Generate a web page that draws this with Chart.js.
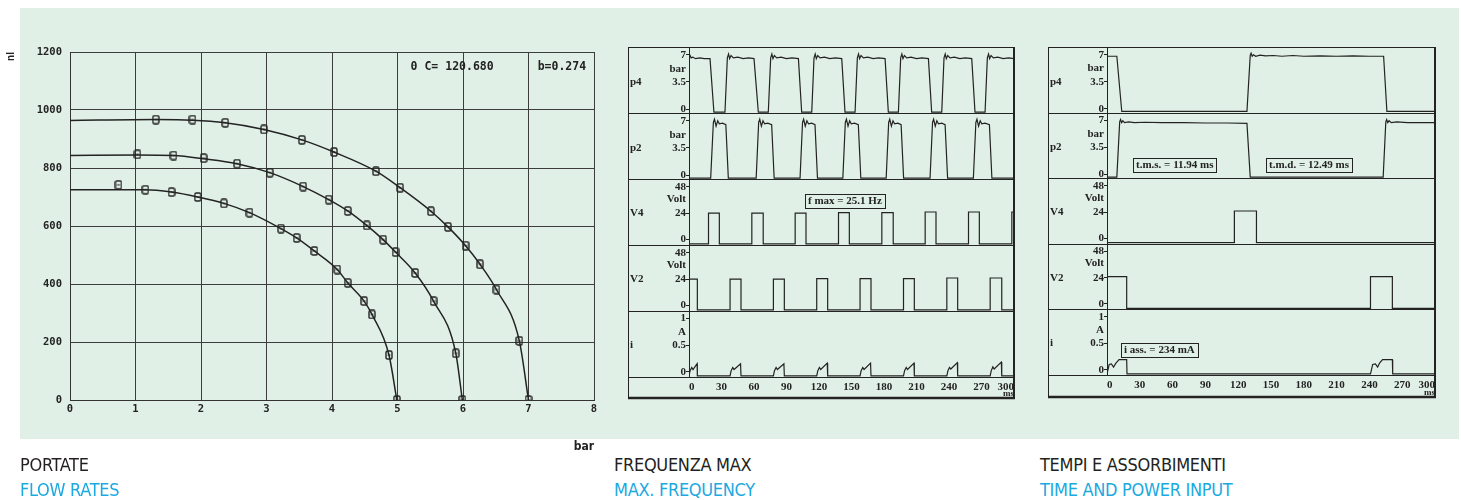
<!DOCTYPE html>
<html>
<head>
<meta charset="utf-8">
<title>Portate / Frequenza max / Tempi e assorbimenti</title>
<script src="https://cdn.jsdelivr.net/npm/chart.js@4.4.1/dist/chart.umd.min.js"></script>
<style>
  html,body{margin:0;padding:0;background:#fff;}
  body{width:1461px;height:500px;position:relative;overflow:hidden;
       font-family:"Liberation Sans Narrow","DejaVu Sans Condensed","Roboto",sans-serif;font-stretch:condensed;}
  .panel{position:absolute;left:20px;top:8px;width:1439px;height:431px;background:#e1f0e6;}
  canvas{position:absolute;top:0;}
  #flowChart{left:0;}
  #freqChart{left:610px;}
  #timeChart{left:1030px;}
  .cap{position:absolute;top:452px;font-size:18px;line-height:25px;letter-spacing:-.3px;color:#231f20;}
  .cap span{display:block;color:#1aa9e1;}
</style>
</head>
<body>
<div class="panel"></div>
<canvas id="flowChart" width="610" height="456"></canvas>
<canvas id="freqChart" width="420" height="420"></canvas>
<canvas id="timeChart" width="431" height="420"></canvas>
<div class="cap" style="left:20px">PORTATE<span>FLOW RATES</span></div>
<div class="cap" style="left:614px">FREQUENZA MAX<span>MAX. FREQUENCY</span></div>
<div class="cap" style="left:1040px">TEMPI E ASSORBIMENTI<span>TIME AND POWER INPUT</span></div>

<script>
// ---- flow rates (bar / nl) ----
var pressTicks = [0,1,2,3,4,5,6,7,8];
var flowTicks  = [0,200,400,600,800,1000,1200];

// measured points
var bar7 = [1.31,1.87,2.37,2.96,3.54,4.03,4.67,5.04,5.51,5.77,6.04,6.26,6.51,6.86,7.0];
var nl7  = [967,967,956,933,897,855,789,732,651,597,532,468,381,204,0];
var bar6 = [1.03,1.58,2.04,2.55,3.05,3.56,3.95,4.24,4.53,4.78,4.97,5.27,5.55,5.89,5.99];
var nl6  = [847,843,834,815,784,736,691,652,602,553,510,438,341,161,0];
var bar5 = [0.74,1.15,1.55,1.95,2.35,2.74,3.22,3.46,3.73,4.08,4.24,4.49,4.61,4.87,4.99];
var nl5  = [742,725,717,700,678,646,591,559,514,450,404,341,295,155,0];

// fitted curves
var fitBar7 = [0,1.31,1.87,2.37,2.96,3.54,4.03,4.67,5.04,5.51,5.77,6.04,6.26,6.51,6.86,7.0];
var fitNl7  = [964,967,965,956,933,897,855,789,732,651,597,532,468,381,204,0];
var fitBar6 = [0,1.03,1.58,2.04,2.55,3.05,3.56,3.95,4.24,4.53,4.78,4.97,5.27,5.55,5.89,5.99];
var fitNl6  = [843,845,843,832,815,784,736,691,652,602,553,510,438,341,161,0];
var fitBar5 = [0,1.15,1.55,1.95,2.35,2.74,3.22,3.46,3.73,4.08,4.24,4.49,4.61,4.87,4.99];
var fitNl5  = [725,725,717,700,678,646,591,559,514,450,404,341,295,155,0];

// ---- max frequency traces [ms, value] ----
var fmP4 = [[0,6.5],[1,6.9],[2,6.6],[3.5,6.7],[6,6.5],[10,6.6],[14,6.5],[19.4,6.5],[23,-0.4],[33.2,-0.4],[35.4,6.6],
  [36.5,7.1],[37.5,6.5],[38.8,6.9],[41,6.6],[45,6.7],[50,6.5],[55,6.6],[60,6.5],[64,-0.4],[73.2,-0.4],[75.4,6.6],
  [76.5,7.1],[77.5,6.5],[78.8,6.9],[81,6.6],[85,6.7],[90,6.5],[95,6.6],[101,6.5],[104,-0.4],[113.3,-0.4],[115.4,6.6],
  [116.5,7.1],[117.5,6.5],[118.8,6.9],[121,6.6],[125,6.7],[130,6.5],[135,6.6],[141,6.5],[144,-0.4],[153.3,-0.4],[155.4,6.6],
  [156.5,7.1],[157.5,6.5],[158.8,6.9],[161,6.6],[165,6.7],[170,6.5],[175,6.6],[181,6.5],[184,-0.4],[193.3,-0.4],[195.4,6.6],
  [196.5,7.1],[197.5,6.5],[198.8,6.9],[201,6.6],[205,6.7],[210,6.5],[215,6.6],[221,6.5],[224,-0.4],[233.3,-0.4],[235.4,6.6],
  [236.5,7.1],[237.5,6.5],[238.8,6.9],[241,6.6],[245,6.7],[250,6.5],[255,6.6],[261,6.5],[264,-0.4],[273.3,-0.4],[275.4,6.6],
  [276.5,7.1],[277.5,6.5],[278.8,6.9],[281,6.6],[285,6.7],[290,6.5],[295,6.6],[300,6.5]];
var fmP2 = [[0,-0.4],[20,-0.4],[22.5,6.8],[23.5,7.2],[25,6.3],[26.5,7.0],[28,6.6],[31,6.7],[34,6.5],[36.3,-0.4],
  [62,-0.4],[64.3,6.8],[65.3,7.2],[66.8,6.3],[68.3,7.0],[69.8,6.6],[72.8,6.7],[76.3,6.5],[78.6,-0.4],
  [102.5,-0.4],[104.8,6.8],[105.8,7.2],[107.3,6.3],[108.8,7.0],[110.3,6.6],[113.3,6.7],[116.3,6.5],[118.6,-0.4],
  [142,-0.4],[144.3,6.8],[145.3,7.2],[146.8,6.3],[148.3,7.0],[149.8,6.6],[152.8,6.7],[156.3,6.5],[158.6,-0.4],
  [182,-0.4],[184.3,6.8],[185.3,7.2],[186.8,6.3],[188.3,7.0],[189.8,6.6],[192.8,6.7],[195.8,6.5],[198.1,-0.4],
  [222.5,-0.4],[224.8,6.8],[225.8,7.2],[227.3,6.3],[228.8,7.0],[230.3,6.6],[233.3,6.7],[236.4,6.5],[238.7,-0.4],
  [262.5,-0.4],[264.8,6.8],[265.8,7.2],[267.3,6.3],[268.8,7.0],[270.3,6.6],[273.3,6.7],[277.3,6.5],[279.6,-0.4],[300,-0.4]];
var fmV4 = [[0,-4],[18,-4],[18,24],[28,24],[28,-4],[58,-4],[58,24],[68.5,24],[68.5,-4],[98,-4],[98,24],[108,24],[108,-4],
  [138,-4],[138,24.5],[148,24.5],[148,-4],[178,-4],[178,24.5],[188.5,24.5],[188.5,-4],[218,-4],[218,25],[228,25],[228,-4],
  [258,-4],[258,25],[268,25],[268,-4],[298,-4],[298,25],[300,25]];
var fmV2 = [[0,24],[7.7,24],[7.7,-4],[37.9,-4],[37.9,24],[48,24],[48,-4],[77.9,-4],[77.9,24],[88,24],[88,-4],
  [117.9,-4],[117.9,24.5],[128,24.5],[128,-4],[157.9,-4],[157.9,24.5],[168,24.5],[168,-4],[198,-4],[198,24.5],[208,24.5],[208,-4],
  [238,-4],[238,25],[248,25],[248,-4],[278,-4],[278,25],[288.7,25],[288.7,-4],[300,-4]];
var fmI = [[0,-0.08],[1,0.02],[2.5,0.08],[3.7,0.04],[7.5,0.15],[7.7,-0.08],
  [37.9,-0.08],[38.9,0.02],[40.4,0.08],[41.6,0.04],[47.6,0.15],[48,-0.08],
  [77.9,-0.08],[78.9,0.02],[80.4,0.08],[81.6,0.04],[87.6,0.15],[88,-0.08],
  [117.9,-0.08],[118.9,0.02],[120.4,0.08],[121.6,0.04],[127.6,0.16],[128,-0.08],
  [157.9,-0.08],[158.9,0.02],[160.4,0.08],[161.6,0.04],[167.6,0.16],[168,-0.08],
  [198,-0.08],[199,0.02],[200.5,0.08],[201.7,0.04],[207.7,0.16],[208,-0.08],
  [238,-0.08],[239,0.02],[240.5,0.08],[241.7,0.05],[247.7,0.17],[248,-0.08],
  [278,-0.08],[279,0.02],[280.5,0.09],[281.7,0.05],[288.3,0.18],[288.7,-0.08],[300,-0.08]];

// ---- time and power input traces [ms, value] ----
var tpP4 = [[0,6.8],[9,6.8],[13.5,-0.35],[128,-0.35],[131,6.9],[131.8,7.2],[132.8,6.8],[134,7.0],[136,6.8],[140,6.95],
  [145,6.85],[152,6.9],[160,6.8],[170,6.9],[180,6.8],[195,6.85],[210,6.8],[225,6.85],[240,6.8],[253,6.8],[256,-0.35],[300,-0.35]];
var tpP2 = [[0,-0.35],[9,-0.35],[11.6,6.8],[12.4,7.1],[13.4,6.7],[14.5,6.95],[16,6.7],[20,6.8],[25,6.7],[35,6.75],[50,6.7],
  [70,6.7],[90,6.65],[110,6.65],[128,6.6],[131,-0.35],[252.6,-0.35],[255,6.8],[255.8,7.1],[256.8,6.7],[258,6.95],[260,6.7],
  [265,6.8],[275,6.7],[290,6.7],[300,6.7]];
var tpV4 = [[0,-4],[116.5,-4],[116.5,25],[136.7,25],[136.7,-4],[300,-4]];
var tpV2 = [[0,25],[18,25],[18,-4],[241,-4],[241,25],[261,25],[261,-4],[300,-4]];
var tpI = [[0,-0.08],[2,0.1],[4,0.11],[6,0.05],[8,0.12],[11,0.19],[18,0.19],[18.3,-0.08],
  [241,-0.08],[243,0.1],[245.5,0.11],[247.5,0.05],[249.5,0.13],[252,0.19],[261,0.19],[261.3,-0.08],[300,-0.08]];

var msTicks = [0,30,60,90,120,150,180,210,240,270,300];
var barNums = [0,3.5,7], voltNums = [0,24,48], ampNums = [0,0.5,1];

var INK = '#232323';
var serif = '"Liberation Serif","DejaVu Serif",serif';
var mono = '"DejaVu Sans Mono","Liberation Mono",monospace';

function pairs(xs, ys){
  var out = [];
  for(var i=0;i<xs.length;i++){ out.push({x:xs[i], y:ys[i]}); }
  return out;
}
function pts(arr){
  return arr.map(function(p){ return {x:p[0], y:p[1]}; });
}

function makeMarker(){
  var c = document.createElement('canvas');
  c.width = 8; c.height = 10;
  var g = c.getContext('2d');
  g.strokeStyle = INK; g.lineWidth = 1.4;
  g.beginPath();
  g.moveTo(2.5,1); g.lineTo(5.5,1); g.quadraticCurveTo(7,1,7,2.5); g.lineTo(7,7.5);
  g.quadraticCurveTo(7,9,5.5,9); g.lineTo(2.5,9); g.quadraticCurveTo(1,9,1,7.5);
  g.lineTo(1,2.5); g.quadraticCurveTo(1,1,2.5,1); g.closePath();
  g.stroke();
  g.lineWidth = 1.1;
  g.beginPath(); g.moveTo(2.5,5); g.lineTo(5.5,5); g.stroke();
  return c;
}

// text notes placed with the scales
var notesPlugin = {
  id: 'notes',
  afterDraw: function(chart, args, o){
    if(!o || !o.items) return;
    var ctx = chart.ctx;
    ctx.save();
    ctx.fillStyle = INK;
    ctx.strokeStyle = INK;
    ctx.font = o.font;
    ctx.textBaseline = 'middle';
    ctx.textAlign = 'left';
    o.items.forEach(function(n){
      var xs = chart.scales[n.xAxis || 'x'], ys = chart.scales[n.yAxis || 'y'];
      var x = xs.getPixelForValue(n.x), y = ys.getPixelForValue(n.y);
      if(n.boxed){
        var w = ctx.measureText(n.text).width + 6, h = 14;
        var bx = Math.round(x - w/2);
        ctx.fillText(n.text, bx + 3, y + 0.5);
        ctx.lineWidth = 1;
        ctx.strokeRect(bx + 0.5, Math.round(y - h/2) + 0.5, Math.round(w), h);
      } else {
        ctx.fillText(n.text, x, y);
      }
    });
    ctx.restore();
  }
};

// oscilloscope frame: border, row separators, row names
var framePlugin = {
  id: 'scopeFrame',
  afterDraw: function(chart, args, o){
    if(!o || !o.rows) return;
    var ctx = chart.ctx, area = chart.chartArea, xs = chart.scales.x;
    var first = chart.scales[o.rows[0]];
    var L = Math.round(first.left), R = Math.round(area.right), T = Math.round(area.top), B = Math.round(xs.bottom);
    ctx.save();
    ctx.strokeStyle = INK;
    ctx.lineWidth = 1;
    ctx.beginPath();
    ctx.moveTo(L + 0.5, T); ctx.lineTo(L + 0.5, B);
    ctx.moveTo(L, T + 0.5); ctx.lineTo(R, T + 0.5);
    o.rows.forEach(function(id){
      var y = Math.round(chart.scales[id].bottom) + 0.5;
      ctx.moveTo(L, y); ctx.lineTo(R, y);
    });
    ctx.stroke();
    ctx.lineWidth = 2;
    ctx.beginPath(); ctx.moveTo(R, T); ctx.lineTo(R, B); ctx.stroke();
    ctx.lineWidth = 2.5;
    ctx.beginPath(); ctx.moveTo(L, B - 1); ctx.lineTo(R + 1, B - 1); ctx.stroke();
    ctx.fillStyle = INK;
    ctx.font = 'bold 11px ' + serif;
    ctx.textBaseline = 'middle';
    ctx.textAlign = 'left';
    o.rows.forEach(function(id){
      var s = chart.scales[id];
      ctx.fillText(o.names[id], L + 2, s.getPixelForValue(o.nameAt[id]));
    });
    ctx.restore();
  }
};

Chart.register(notesPlugin, framePlugin);

function rowAxis(weight, min, max, nums, unit, unitAt, width){
  return {
    type: 'linear', position: 'left', stack: 'rows', stackWeight: 1, weight: weight,
    min: min, max: max,
    afterBuildTicks: function(s){
      var t = nums.map(function(v){ return {value: v}; });
      t.push({value: unitAt, unit: true});
      t.sort(function(a, b){ return a.value - b.value; });
      s.ticks = t;
    },
    afterFit: function(s){ s.width = width; },
    border: { display: true, color: INK, width: 1 },
    grid: {
      drawOnChartArea: false, drawTicks: true, tickLength: 3,
      tickColor: function(c){ return (c.tick && c.tick.unit) ? 'rgba(0,0,0,0)' : INK; }
    },
    ticks: {
      autoSkip: false, padding: 0, color: INK,
      font: { family: serif, weight: 'bold', size: 11 },
      callback: function(v, i, ticks){ return ticks[i].unit ? unit : String(v); }
    }
  };
}

function scopeChart(id, sets, rowW, xH, pad, notes){
  var names = {p4:'p4', p2:'p2', v4:'V4', v2:'V2', i:'i'};
  var ds = [
    {key:'p4', data: sets.p4}, {key:'p2', data: sets.p2}, {key:'v4', data: sets.v4},
    {key:'v2', data: sets.v2}, {key:'i', data: sets.i}
  ].map(function(d){
    return { data: pts(d.data), yAxisID: d.key, xAxisID: 'x', borderColor: INK, borderWidth: 1.2,
             pointRadius: 0, tension: 0, fill: false };
  });
  return new Chart(document.getElementById(id), {
    type: 'line',
    data: { datasets: ds },
    options: {
      responsive: false, animation: false, events: [],
      layout: { padding: pad },
      plugins: {
        legend: { display: false }, tooltip: { enabled: false },
        scopeFrame: { rows: ['p4','p2','v4','v2','i'], names: names,
                      nameAt: {p4:3.5, p2:3.5, v4:24, v2:24, i:0.5} },
        notes: { font: 'bold 11px ' + serif, items: notes }
      },
      scales: {
        x: {
          type: 'linear', position: 'bottom', min: 0, max: 300,
          afterBuildTicks: function(s){ s.ticks = msTicks.map(function(v){ return {value: v}; }); },
          afterFit: function(s){ s.height = xH; },
          border: { display: true, color: INK },
          grid: { drawOnChartArea: false, drawTicks: false },
          ticks: { autoSkip: false, maxRotation: 0, padding: 4, align: 'inner', color: INK,
                   font: { family: serif, weight: 'bold', size: 11 } },
          title: { display: true, text: 'ms', align: 'end', color: INK,
                   font: { family: serif, weight: 'bold', size: 9 }, padding: { top: 0, bottom: 0 } }
        },
        i:  rowAxis(1, -0.1, 1.14, ampNums, 'A', 0.75, rowW),
        v2: rowAxis(2, -5, 55, voltNums, 'Volt', 37, rowW),
        v4: rowAxis(3, -5, 55, voltNums, 'Volt', 37, rowW),
        p2: rowAxis(4, -0.5, 8, barNums, 'bar', 5.2, rowW),
        p4: rowAxis(5, -0.5, 8, barNums, 'bar', 5.2, rowW)
      }
    }
  });
}

window.addEventListener('load', function(){
  var marker = makeMarker();
  var curve = function(d){ return { type: 'line', data: d, borderColor: INK, borderWidth: 1.5, pointRadius: 0,
                                    cubicInterpolationMode: 'monotone', fill: false }; };
  var dots = function(d){ return { type: 'scatter', data: d, showLine: false, pointStyle: marker, pointRadius: 5,
                                   borderColor: INK, backgroundColor: INK }; };
  var plain = function(v){ return String(v); };

  new Chart(document.getElementById('flowChart'), {
    type: 'scatter',
    data: {
      datasets: [
        curve(pairs(fitBar7, fitNl7)), curve(pairs(fitBar6, fitNl6)), curve(pairs(fitBar5, fitNl5)),
        dots(pairs(bar7, nl7)), dots(pairs(bar6, nl6)), dots(pairs(bar5, nl5))
      ]
    },
    options: {
      responsive: false, animation: false, events: [],
      layout: { padding: { left: 0, top: 52, right: 16, bottom: 0 } },
      plugins: {
        legend: { display: false }, tooltip: { enabled: false },
        notes: { font: 'bold 11.5px ' + mono, items: [
          { text: '0 C= 120.680', x: 5.2, y: 1147 },
          { text: 'b=0.274', x: 7.14, y: 1147 }
        ] }
      },
      scales: {
        x: {
          type: 'linear', min: 0, max: 8,
          afterBuildTicks: function(s){ s.ticks = pressTicks.map(function(v){ return {value: v}; }); },
          afterFit: function(s){ s.height = 56; },
          border: { display: true, color: '#333' },
          grid: { color: '#3c3c3c', lineWidth: 1, drawTicks: false },
          ticks: { padding: 3, color: INK, callback: plain, font: { family: mono, weight: 'bold', size: 10.5 } },
          title: { display: true, text: 'bar', align: 'end', color: INK,
                   font: { family: '"Liberation Sans Narrow","DejaVu Sans Condensed",sans-serif', weight: 'bold', size: 12 },
                   padding: { top: 0, bottom: 2 } }
        },
        y: {
          type: 'linear', min: 0, max: 1200,
          afterBuildTicks: function(s){ s.ticks = flowTicks.map(function(v){ return {value: v}; }); },
          afterFit: function(s){ s.width = 70; },
          border: { display: true, color: '#333' },
          grid: { color: '#3c3c3c', lineWidth: 1, drawTicks: false },
          ticks: { padding: 8, color: INK, callback: plain, font: { family: mono, weight: 'bold', size: 10.5 } },
          title: { display: true, text: 'nl', align: 'end', color: INK,
                   font: { family: '"Liberation Sans","DejaVu Sans",sans-serif', weight: 'bold', size: 10 },
                   padding: { top: 5, bottom: 0 } }
        }
      }
    }
  });

  scopeChart('freqChart', {p4: fmP4, p2: fmP2, v4: fmV4, v2: fmV2, i: fmI}, 61, 22,
    { left: 18, top: 47, right: 16, bottom: 21 },
    [ { text: 'f max = 25.1 Hz', x: 144, y: 35, yAxis: 'v4', boxed: true } ]);

  scopeChart('timeChart', {p4: tpP4, p2: tpP2, v4: tpV4, v2: tpV2, i: tpI}, 59, 23,
    { left: 18, top: 47, right: 26, bottom: 22 },
    [ { text: 't.m.s. = 11.94 ms', x: 62, y: 1.2, yAxis: 'p2', boxed: true },
      { text: 't.m.d. = 12.49 ms', x: 185, y: 1.2, yAxis: 'p2', boxed: true },
      { text: 'i ass. = 234 mA', x: 48, y: 0.38, yAxis: 'i', boxed: true } ]);
});
</script>
</body>
</html>
